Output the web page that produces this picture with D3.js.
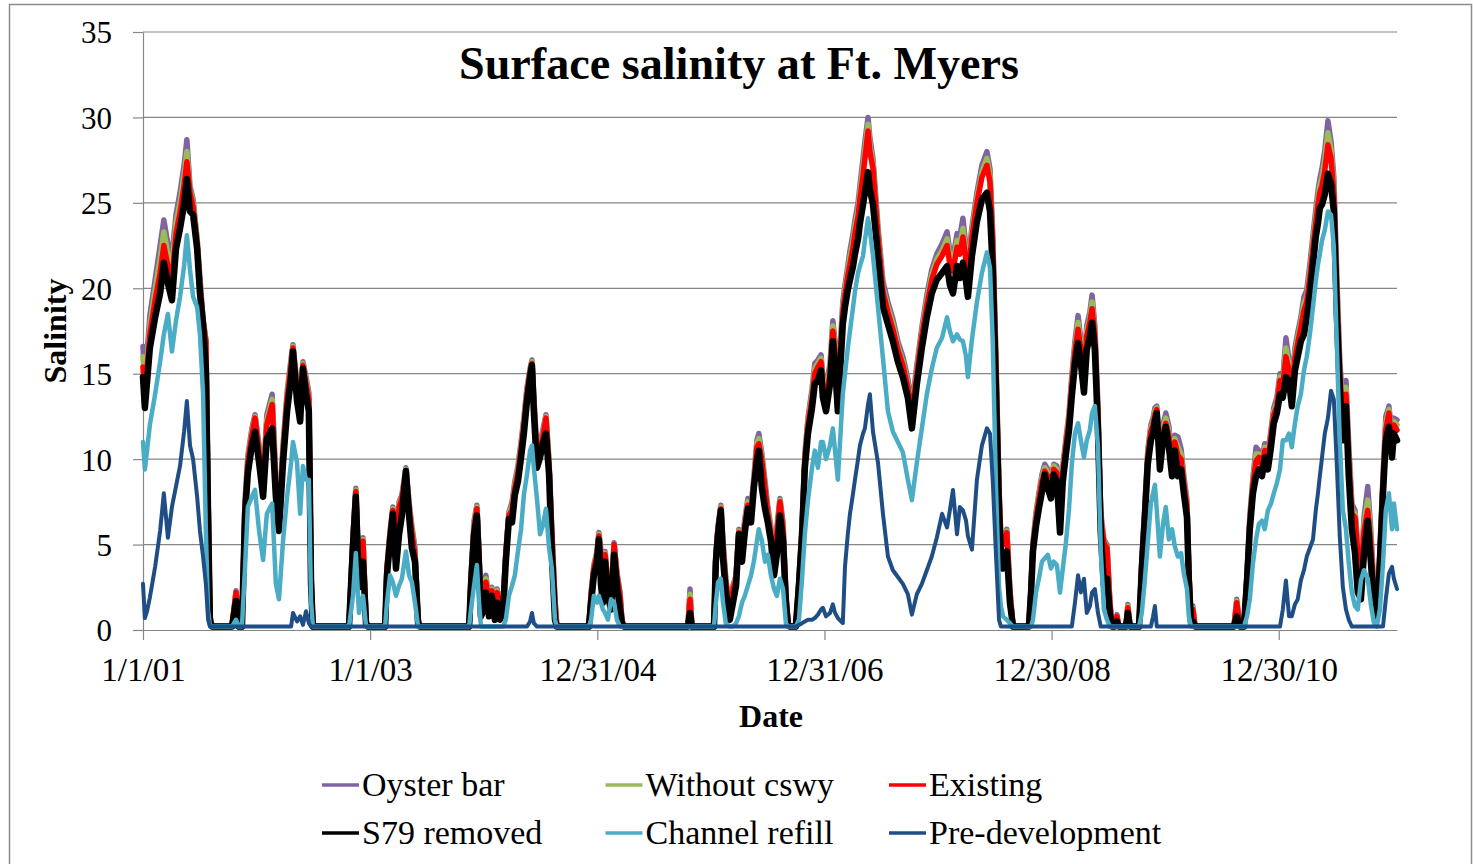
<!DOCTYPE html>
<html>
<head>
<meta charset="utf-8">
<style>
    body { margin: 0; background: #fff; }
    text { font-family: "Liberation Serif", "Times New Roman", serif; fill: #000; }
    .grid line { stroke: #868686; stroke-width: 1.2px; }
    .axis path, .axis line { stroke: #868686; stroke-width: 1.2px; }
    .series { fill: none; stroke-linejoin: round; stroke-linecap: round; }
</style>
</head>
<body>
<svg width="1473" height="864"></svg>
<script src="https://d3js.org/d3.v7.min.js"></script>
<script>
    // Dates are Excel serial day numbers (36892 = 1/1/01)
    var vDates = [
        36892,36898,36905,36914,36931,36947,36959,36972,36985,36998,37011,37024,37033,37043,37053,37066,37075,37085,37094,37101,37107,37114,
        37178,37191,37200,37210,37220,37229,37242,37252,37265,37278,37290,37307,37319,37329,37342,37355,37368,37374,37387,37397,37406,37416,37425,37432,37438,
        37554,37567,37576,37586,37599,37609,37615,
        37670,37676,37686,37695,37705,37715,37724,37737,37747,37756,37766,37776,37782,
        37940,37946,37956,37965,37972,37978,37988,37994,38004,38013,38023,38030,38039,38049,38058,38068,38078,38087,38097,38107,38116,38126,38136,38142,38148,38158,38168,38177,38187,38197,38206,38216,38222,
        38325,38332,38341,38351,38357,38364,38370,38377,38386,38396,38406,38415,38425,38431,38438,
        38643,38650,38656,38727,38733,38740,38749,38756,38765,38778,38788,38798,38807,38817,38826,38836,38846,38855,38865,38871,38881,38891,38900,38910,38920,38929,38939,38949,38958,38965,38971,
        38990,39000,39010,39019,39029,39042,39051,39061,39071,39077,39087,39100,39109,39116,39125,39141,39148,39157,39164,39174,39180,39190,39196,39206,39212,39222,39228,39238,39254,39270,39286,39302,39318,39334,39350,39363,39379,39395,39411,39427,39443,39460,39476,39485,39495,39508,39517,39527,39537,39543,39556,39572,39588,39604,39614,39623,39633,39643,39649,39656,39662,39668,39678,39688,
        39739,39746,39752,39762,39771,39781,39790,39800,39810,39819,39829,39839,39848,39858,39868,39877,39887,39897,39906,39916,39925,39935,39942,39951,39961,39970,39980,39990,39999,40006,40015,40022,40028,40051,40057,40064,
        40093,40102,40112,40121,40131,40138,40144,40150,40160,40170,40179,40189,40199,40208,40218,40228,40237,40247,40253,40260,40266,40273,
        40398,40407,40417,40430,40440,40449,40459,40469,40478,40488,40497,40507,40517,40526,40536,40546,40555,40565,40575,40584,40594,40603,40613,40623,40632,40642,40652,40661,40668,40674,40681,40690,40700,40710,40719,40729,40738,40748,40758,40767,40777,40787,40796,40806,40816,40828,40838,40848,40857,40867,40877,40886,40896,40906,40912,40922
    ];

    var vOysterBar = [
        16.6,14.5,16.2,18.4,20.5,22.5,24.0,22.6,21.9,24.3,25.6,27.2,28.7,26.0,25.2,22.9,20.6,18.2,17.0,8.0,0.8,0.2,
        0.2,2.3,0.2,0.2,7.6,10.2,11.8,12.6,10.8,8.7,12.6,13.8,8.8,6.7,10.8,13.9,15.9,16.7,14.4,13.2,15.7,14.8,13.9,3.4,0.2,
        0.2,5.6,8.3,3.2,5.4,0.5,0.2,
        0.2,3.7,5.8,7.2,4.5,7.5,7.9,9.5,7.5,6.1,4.8,0.6,0.2,
        0.2,3.1,6.4,7.3,4.6,1.4,2.8,3.2,1.8,2.5,1.4,2.4,1.6,1.6,4.6,6.9,7.5,8.7,9.6,11.0,12.4,14.2,15.3,15.8,13.7,10.5,10.9,11.7,12.6,9.9,5.8,1.8,0.2,
        0.2,2.2,3.8,4.6,5.7,4.6,3.8,4.6,2.8,2.0,5.1,3.4,2.2,0.6,0.2,
        0.2,2.4,0.2,0.2,4.5,6.1,7.3,5.2,3.0,1.2,2.6,3.2,5.9,4.9,6.5,7.7,7.2,8.9,11.1,11.5,10.3,8.7,7.2,6.0,4.0,6.0,7.7,6.3,2.2,0.4,0.2,
        0.2,3.0,6.2,10.3,12.4,14.1,15.6,15.8,16.1,14.8,14.2,15.6,18.1,16.9,14.2,19.2,20.2,21.3,22.2,23.2,24.0,25.0,26.0,27.6,28.6,30.0,28.8,27.6,23.6,20.4,19.2,18.2,16.9,16.0,14.7,13.1,15.5,17.7,19.6,21.1,22.0,22.6,23.3,22.2,21.8,23.2,23.0,24.1,22.4,21.4,23.6,25.6,27.2,28.0,27.0,23.1,16.1,8.4,5.4,5.7,5.2,5.9,2.4,0.2,
        0.2,2.6,5.1,6.9,8.0,9.1,9.7,9.4,8.8,9.7,9.6,6.8,9.6,11.2,12.7,14.9,16.9,18.4,17.0,15.4,17.8,18.6,19.6,17.8,13.1,6.9,5.3,5.0,1.8,0.2,0.2,0.9,0.2,0.2,1.5,0.2,
        0.2,4.1,7.4,10.5,12.0,12.4,13.0,13.1,10.4,12.0,12.7,11.9,10.0,11.4,11.3,10.6,9.0,7.6,3.6,0.6,1.4,0.2,
        0.2,1.8,0.2,0.2,3.3,6.7,8.9,10.7,10.5,10.0,10.9,10.4,11.7,13.0,13.6,15.0,14.7,17.1,15.8,14.4,16.5,17.4,18.3,19.5,19.9,21.4,23.1,24.6,25.7,26.4,27.0,28.1,29.8,28.6,26.5,20.5,15.8,13.0,14.6,10.8,7.4,7.0,4.9,3.4,6.6,8.4,5.8,2.4,1.2,4.7,9.0,12.5,13.1,11.4,12.4,12.3
    ];

    var vWithoutCswy = [
        16.0,14.0,15.7,17.8,19.9,21.7,23.3,22.0,21.2,23.8,25.0,26.6,28.0,25.8,25.0,22.8,20.4,18.1,17.0,8.0,0.8,0.2,
        0.2,2.2,0.2,0.2,7.4,10.0,11.6,12.5,10.6,8.5,12.3,13.5,8.6,6.5,10.6,13.7,15.7,16.6,14.2,13.0,15.6,14.6,13.7,3.3,0.2,
        0.2,5.5,8.2,3.1,5.3,0.5,0.2,
        0.2,3.6,5.7,7.1,4.3,7.4,7.8,9.4,7.3,5.9,4.6,0.6,0.2,
        0.2,3.0,6.2,7.2,4.4,1.3,2.7,3.0,1.7,2.4,1.3,2.3,1.5,1.5,4.5,6.8,7.3,8.5,9.4,10.8,12.2,14.0,15.2,15.7,13.5,10.3,10.7,11.5,12.5,9.7,5.7,1.7,0.2,
        0.2,2.1,3.7,4.5,5.6,4.3,3.7,4.5,2.7,1.9,5.0,3.3,2.1,0.6,0.2,
        0.2,2.1,0.2,0.2,4.4,6.0,7.2,5.0,2.9,1.1,2.5,3.1,5.8,4.7,6.3,7.5,7.0,8.7,10.9,11.2,10.1,8.5,7.0,5.8,3.9,5.8,7.6,6.1,2.1,0.4,0.2,
        0.2,2.9,6.0,10.1,12.2,13.8,15.3,15.6,15.9,14.5,13.9,15.3,17.8,16.6,13.9,18.9,19.9,21.0,21.8,22.8,23.6,24.6,25.6,27.1,28.1,29.6,28.4,27.3,23.3,20.0,18.9,17.9,16.6,15.7,14.4,12.8,15.2,17.4,19.3,20.8,21.7,22.2,22.9,21.8,21.4,22.8,22.5,23.5,22.0,21.0,23.3,25.3,26.8,27.6,26.6,22.8,15.8,8.2,5.3,5.6,5.1,5.8,2.3,0.2,
        0.2,2.5,5.0,6.7,7.8,8.9,9.5,9.2,8.6,9.6,9.4,6.6,9.4,11.0,12.5,14.6,16.6,18.0,16.7,15.1,17.5,18.3,19.2,17.5,12.8,6.7,5.2,4.9,1.7,0.2,0.2,0.8,0.2,0.2,1.4,0.2,
        0.2,4.0,7.2,10.3,11.8,12.2,12.8,13.0,10.2,11.8,12.4,11.6,9.8,11.2,10.7,10.3,8.8,7.4,3.5,0.6,1.3,0.2,
        0.2,1.7,0.2,0.2,3.2,6.5,8.7,10.3,10.3,9.8,10.7,10.2,11.5,12.8,13.3,14.8,14.5,16.5,15.5,14.1,16.2,17.1,18.0,19.1,19.5,21.0,22.7,24.2,25.3,26.0,26.5,27.5,29.1,28.1,26.0,20.0,15.4,12.6,14.2,10.4,7.1,6.8,4.7,3.2,6.2,7.6,5.4,2.2,1.1,4.5,8.8,12.1,12.9,11.1,12.2,12.0
    ];

    var vExisting = [
        15.4,13.6,15.2,17.3,19.3,20.9,22.5,21.3,20.4,23.2,24.4,26.0,27.4,25.6,24.8,22.6,20.2,18.0,16.9,8.0,0.8,0.2,
        0.2,2.2,0.2,0.2,7.2,9.8,11.4,12.4,10.4,8.3,12.0,13.2,8.4,6.3,10.4,13.5,15.5,16.5,14.0,12.8,15.5,14.4,13.5,3.2,0.2,
        0.2,5.4,8.1,3.0,5.2,0.5,0.2,
        0.2,3.5,5.6,7.0,4.1,7.2,7.7,9.3,7.1,5.7,4.4,0.6,0.2,
        0.2,2.9,6.0,7.1,4.2,1.2,2.6,2.8,1.6,2.3,1.2,2.2,1.4,1.4,4.4,6.7,7.0,8.3,9.2,10.6,12.0,13.8,15.1,15.6,13.3,10.1,10.5,11.3,12.4,9.5,5.6,1.6,0.2,
        0.2,2.0,3.6,4.4,5.5,4.0,3.6,4.4,2.6,1.8,5.0,3.2,2.0,0.6,0.2,
        0.2,1.8,0.2,0.2,4.3,5.9,7.1,4.8,2.8,1.0,2.4,3.0,5.7,4.5,6.1,7.3,6.8,8.5,10.7,10.9,9.9,8.3,6.8,5.6,3.8,5.6,7.5,5.9,2.0,0.4,0.2,
        0.2,2.8,5.8,9.9,12.0,13.5,15.0,15.4,15.7,14.2,13.6,15.0,17.5,16.3,13.6,18.6,19.6,20.7,21.4,22.4,23.2,24.2,25.2,26.6,27.6,29.2,28.0,27.0,23.0,19.8,18.6,17.6,16.4,15.5,14.2,12.6,15.0,17.2,19.0,20.5,21.4,21.9,22.5,21.4,21.0,22.4,22.0,23.0,21.6,20.6,23.0,25.0,26.5,27.2,26.2,22.5,15.5,8.0,5.2,5.5,5.0,5.7,2.2,0.2,
        0.2,2.4,4.9,6.5,7.6,8.7,9.3,9.0,8.4,9.4,9.2,6.4,9.2,10.8,12.3,14.3,16.3,17.6,16.4,14.8,17.2,18.0,18.8,17.2,12.5,6.5,5.1,4.8,1.6,0.2,0.2,0.8,0.2,0.2,1.3,0.2,
        0.2,3.9,7.0,10.1,11.6,12.0,12.6,12.9,10.0,11.6,12.1,11.3,9.6,11.0,10.2,10.0,8.6,7.2,3.4,0.6,1.2,0.2,
        0.2,1.6,0.2,0.2,3.1,6.3,8.5,9.9,10.1,9.6,10.5,10.0,11.3,12.6,13.1,14.6,14.3,16.0,15.2,13.8,15.9,16.8,17.7,18.7,19.2,20.6,22.3,23.8,24.9,25.6,26.0,26.9,28.4,27.6,25.5,19.5,15.0,12.2,13.8,10.0,6.8,6.6,4.5,3.0,5.8,7.0,5.0,2.0,1.0,4.3,8.6,11.7,12.7,10.8,12.0,11.7
    ];

    var vS79Removed = [
        14.8,13.0,14.5,16.5,18.3,19.7,21.5,20.3,19.3,22.3,23.5,24.9,26.4,24.5,24.3,22.3,19.7,17.9,15.3,6.8,0.5,0.2,
        0.2,1.7,0.2,0.2,6.8,9.2,10.8,11.6,9.8,7.8,11.2,11.8,7.8,5.8,9.8,12.8,14.8,16.3,13.4,12.2,15.3,13.8,12.8,2.7,0.2,
        0.2,5.0,7.8,2.5,4.0,0.3,0.2,
        0.2,3.2,5.2,6.8,3.6,5.6,6.7,9.3,6.7,4.8,4.0,0.4,0.2,
        0.2,2.6,5.6,6.7,3.6,0.8,1.2,2.2,0.8,2.0,0.6,1.6,0.6,1.0,4.0,6.5,6.3,7.9,8.7,10.1,11.5,13.4,14.8,15.5,12.8,9.5,10.1,10.9,11.5,9.1,4.4,0.6,0.2,
        0.2,1.6,3.2,4.0,5.3,2.6,1.6,4.0,2.0,1.2,4.4,2.6,1.2,0.4,0.2,
        0.2,1.0,0.2,0.2,4.0,5.6,7.0,4.2,2.2,0.6,1.6,2.6,5.6,4.0,5.7,7.1,6.3,8.3,9.9,10.5,8.3,7.1,6.3,5.2,3.2,4.4,6.7,5.2,1.6,0.3,0.2,
        0.2,2.6,5.5,9.5,11.5,13.0,14.4,14.6,15.2,13.6,12.8,14.4,16.9,15.5,12.8,17.9,18.9,19.9,20.5,21.3,22.0,22.9,23.8,24.9,25.6,26.8,25.8,24.9,21.9,18.9,17.9,16.9,15.7,14.8,13.6,11.8,14.4,16.5,18.3,19.7,20.5,20.9,21.3,20.2,19.7,21.3,20.6,21.5,20.4,19.5,21.9,23.9,25.2,25.6,24.5,21.0,14.0,7.0,4.6,3.6,4.2,4.6,1.6,0.2,
        0.2,2.2,4.6,6.1,7.1,8.1,9.1,8.3,7.7,9.1,8.7,5.7,8.7,10.3,11.7,13.7,15.6,16.8,15.6,13.9,16.4,17.2,18.0,16.4,11.7,5.7,2.6,3.0,1.0,0.2,0.2,0.5,0.2,0.2,1.0,0.2,
        0.2,3.6,6.7,9.7,11.1,11.5,12.2,12.7,9.4,11.1,11.9,10.7,9.0,10.5,9.0,9.4,8.0,6.6,2.9,0.4,0.5,0.2,
        0.2,0.8,0.2,0.2,2.9,5.9,8.0,9.0,9.4,9.0,10.1,9.4,10.7,12.1,12.7,13.8,13.6,14.8,14.6,13.1,15.2,16.0,16.9,17.3,18.3,19.7,21.4,23.0,23.8,24.7,24.9,25.5,26.7,26.1,24.5,18.3,14.2,11.1,13.1,9.0,5.9,4.5,2.2,1.8,4.5,6.4,4.0,1.5,0.8,3.9,8.0,11.1,11.9,10.1,11.5,11.1
    ];

    var vChannelRefill = [
        11.0,9.4,10.5,12.0,13.8,15.7,17.3,18.5,16.3,18.1,19.5,21.3,23.1,21.1,19.5,18.9,17.3,13.8,5.8,1.1,0.3,0.2,
        0.2,0.6,0.2,0.2,3.7,7.2,7.8,8.2,5.8,4.1,6.8,7.4,2.7,1.8,5.2,7.8,9.8,11.0,9.8,6.8,9.6,8.8,8.8,1.7,0.2,
        0.2,2.0,4.5,1.0,2.0,0.2,0.2,
        0.2,1.6,3.2,2.8,2.0,2.6,3.0,4.6,3.2,2.8,1.6,0.2,0.2,
        0.2,1.2,2.6,3.8,1.6,0.2,0.2,0.2,0.2,0.2,0.2,0.2,0.2,0.2,0.6,2.0,2.6,3.2,4.6,5.9,7.9,9.1,10.5,10.8,9.5,7.7,5.6,6.1,7.1,4.8,3.6,0.6,0.2,
        0.2,0.6,2.0,1.6,2.0,1.6,1.2,1.0,0.6,1.8,1.6,0.6,0.2,0.2,0.2,
        0.2,0.2,0.2,0.2,1.6,2.8,3.0,1.6,0.4,0.2,0.2,0.4,0.8,1.6,2.0,2.6,3.2,4.0,5.2,5.9,5.2,4.0,4.4,3.2,2.4,2.0,3.0,2.4,0.4,0.2,0.2,
        0.2,0.6,3.0,5.6,7.6,9.5,10.5,9.5,11.0,11.0,10.0,10.8,11.8,10.5,8.8,13.8,15.0,16.5,17.5,18.9,19.8,20.9,21.3,21.9,22.8,24.1,23.4,21.9,18.9,15.9,12.8,11.6,11.0,10.4,8.8,7.6,9.8,11.8,13.8,15.3,16.5,17.1,18.3,17.5,16.9,17.3,17.0,16.9,16.0,14.8,17.0,19.2,20.9,22.1,21.2,16.8,8.5,2.5,1.4,0.8,0.7,0.6,0.4,0.2,
        0.2,0.2,0.6,2.2,3.0,4.0,4.2,4.4,3.6,4.0,3.8,2.2,3.6,5.1,7.1,9.7,11.5,12.1,11.1,10.1,11.1,11.7,12.7,13.1,10.7,4.6,1.2,0.6,0.2,0.2,0.2,0.2,0.2,0.2,0.2,0.2,
        0.2,1.0,3.0,5.1,7.4,8.0,8.5,7.0,4.3,6.2,7.2,5.3,5.9,4.9,4.3,4.5,3.3,2.4,0.8,0.2,0.2,0.2,
        0.2,0.2,0.2,0.2,0.8,1.8,3.9,5.3,6.2,6.4,5.9,7.0,7.4,8.0,8.6,9.4,11.1,11.1,11.5,10.7,12.1,13.1,13.8,15.2,16.0,17.3,18.9,20.4,21.4,22.0,22.8,23.4,24.5,24.3,22.4,16.5,11.1,7.0,5.9,3.9,2.2,1.4,1.2,2.9,3.5,3.0,1.5,0.4,0.2,1.2,3.9,7.0,8.0,5.9,7.4,5.9
    ];

    var vPreDevelopment = [
        2.7,0.7,1.1,1.9,3.7,5.8,8.0,5.4,7.2,8.4,9.6,11.6,13.4,10.8,10.0,7.8,5.8,4.3,2.7,0.7,0.2,0.2,
        0.2,0.2,0.2,0.2,0.2,0.2,0.2,0.2,0.2,0.2,0.2,0.2,0.2,0.2,0.2,0.2,0.2,1.0,0.5,0.8,0.3,1.1,0.4,0.2,0.2,
        0.2,0.2,0.2,0.2,0.2,0.2,0.2,
        0.2,0.2,0.2,0.2,0.2,0.2,0.2,0.2,0.2,0.2,0.2,0.2,0.2,
        0.2,0.2,0.2,0.2,0.2,0.2,0.2,0.2,0.2,0.2,0.2,0.2,0.2,0.2,0.2,0.2,0.2,0.2,0.2,0.2,0.2,0.2,0.5,1.0,0.4,0.2,0.2,0.2,0.2,0.2,0.2,0.2,0.2,
        0.2,0.2,0.2,0.2,0.2,0.2,0.2,0.2,0.2,0.2,0.2,0.2,0.2,0.2,0.2,
        0.2,0.2,0.2,0.2,0.2,0.2,0.2,0.2,0.2,0.2,0.2,0.2,0.2,0.2,0.2,0.2,0.2,0.2,0.2,0.2,0.2,0.2,0.2,0.2,0.2,0.2,0.2,0.2,0.2,0.2,0.2,
        0.2,0.3,0.4,0.5,0.6,0.6,0.7,0.9,1.2,1.3,0.8,1.0,1.5,1.0,0.7,0.4,3.7,5.6,6.8,8.0,8.8,10.0,10.8,11.5,11.8,13.2,13.8,11.6,9.8,6.8,4.3,3.5,3.1,2.7,2.1,0.9,2.1,2.7,3.5,4.3,5.4,6.8,6.0,7.0,8.2,5.6,7.2,7.0,6.4,5.5,4.7,8.8,10.8,11.8,11.5,8.7,4.5,0.6,0.2,0.2,0.2,0.2,0.2,0.2,
        0.2,0.2,0.2,0.2,0.2,0.2,0.2,0.2,0.2,0.2,0.2,0.2,0.2,0.2,0.2,0.2,1.6,3.2,2.2,3.0,1.0,1.4,2.2,2.4,1.0,0.2,0.2,0.2,0.2,0.2,0.2,0.2,0.2,0.2,0.2,0.2,
        0.2,0.2,0.2,0.2,0.2,0.8,1.4,0.2,0.2,0.2,0.2,0.2,0.2,0.2,0.2,0.2,0.2,0.2,0.2,0.2,0.2,0.2,
        0.2,0.2,0.2,0.2,0.2,0.2,0.2,0.2,0.2,0.2,0.2,0.2,0.2,0.2,0.2,0.2,1.2,2.9,0.8,0.8,1.5,1.8,2.9,3.5,4.3,4.8,5.3,7.0,8.0,9.0,10.1,11.5,12.4,14.0,13.5,9.5,5.5,2.5,1.2,0.6,0.2,0.2,0.2,0.2,0.2,0.2,0.2,0.2,0.2,0.2,0.2,1.8,3.3,3.7,3.0,2.4
    ];

    var vSeriesNames = ['Oyster bar', 'Without cswy', 'Existing', 'S79 removed', 'Channel refill', 'Pre-development'];
    var vSeriesValues = [vOysterBar, vWithoutCswy, vExisting, vS79Removed, vChannelRefill, vPreDevelopment];
    var vColors = ['#8064A2', '#9BBB59', '#FF0000', '#000000', '#4BACC6', '#1F4E86'];
    var vWidths = [5.5, 5.5, 5.5, 6.5, 4.5, 4];

    var vYTicks = [0, 5, 10, 15, 20, 25, 30, 35];
    var vXTickDates = [36892, 37622, 38352, 39082, 39812, 40542];
    var vXTickLabels = ['1/1/01', '1/1/03', '12/31/04', '12/31/06', '12/30/08', '12/30/10'];

    vSeriesValues.forEach(function (s, i) {
        if (s.length !== vDates.length) throw new Error(vSeriesNames[i] + ' length ' + s.length + ' vs ' + vDates.length);
    });

    var svg = d3.select('svg');

    // outer chart border
    svg.append('rect').attr('x', 9.5).attr('y', 4.5).attr('width', 1462).attr('height', 900)
        .attr('fill', '#fff').attr('stroke', '#8c8c8c').attr('stroke-width', 1.5);

    var x = d3.scaleLinear().domain([36892, 40922]).range([143, 1397]);
    var y = d3.scaleLinear().domain([0, 35]).range([630, 32]);

    // gridlines
    svg.append('g').attr('class', 'grid')
        .selectAll('line').data(vYTicks.filter(function (d) { return d > 0; })).enter().append('line')
        .attr('x1', 143).attr('x2', 1397)
        .attr('y1', function (d) { return y(d); }).attr('y2', function (d) { return y(d); });

    // y axis
    var gY = svg.append('g').attr('class', 'axis').attr('transform', 'translate(143,0)')
        .call(d3.axisLeft(y).tickValues(vYTicks).tickSize(10).tickSizeOuter(0).tickPadding(21));
    gY.selectAll('text').style('font-size', '31px').attr('dy', '0.35em');

    // x axis
    var gX = svg.append('g').attr('class', 'axis').attr('transform', 'translate(0,630)')
        .call(d3.axisBottom(x).tickValues(vXTickDates).tickSize(10).tickSizeOuter(0).tickPadding(18)
            .tickFormat(function (d, i) { return vXTickLabels[i]; }));
    gX.selectAll('text').style('font-size', '33px');
    gX.selectAll('.domain, line').attr('stroke', '#868686');
    gY.selectAll('.domain, line').attr('stroke', '#868686');

    // series, first drawn at the bottom
    var line = d3.line()
        .x(function (d, i) { return x(vDates[i]); })
        .y(function (d) { return y(d); });

    svg.append('g').selectAll('path').data(vSeriesValues).enter().append('path')
        .attr('class', 'series')
        .attr('stroke', function (d, i) { return vColors[i]; })
        .attr('stroke-width', function (d, i) { return vWidths[i]; })
        .attr('d', line);

    // titles
    svg.append('text').attr('x', 739).attr('y', 79).attr('text-anchor', 'middle')
        .style('font-size', '47px').style('font-weight', 'bold')
        .attr('textLength', 560).attr('lengthAdjust', 'spacingAndGlyphs')
        .text('Surface salinity at Ft. Myers');

    svg.append('text').attr('x', 771).attr('y', 727).attr('text-anchor', 'middle')
        .style('font-size', '32px').style('font-weight', 'bold').text('Date');

    svg.append('text').attr('transform', 'translate(66,331) rotate(-90)').attr('text-anchor', 'middle')
        .style('font-size', '32px').style('font-weight', 'bold').text('Salinity');

    // legend
    var legend = svg.append('g').selectAll('g').data(vSeriesNames).enter().append('g')
        .attr('transform', function (d, i) { return 'translate(' + (322 + (i % 3) * 283.5) + ',' + (785 + Math.floor(i / 3) * 48) + ')'; });
    legend.append('line').attr('x1', 0).attr('x2', 37).attr('y1', 0).attr('y2', 0)
        .attr('stroke', function (d, i) { return vColors[i]; }).attr('stroke-width', 3.5);
    legend.append('text').attr('x', 40).attr('y', 11).style('font-size', '34px')
        .text(function (d) { return d; });
</script>
</body>
</html>
